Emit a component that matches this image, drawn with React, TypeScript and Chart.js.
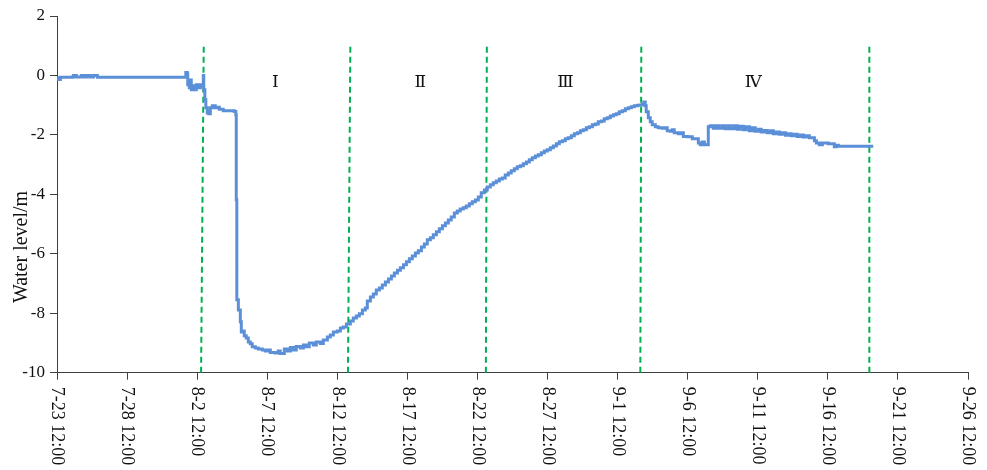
import React, { useEffect, useRef } from "react";
import { Chart, registerables } from "chart.js";

Chart.register(...registerables);

// x in days since 7-23 12:00
const X_TICK_LABELS = [
  "7-23 12:00", "7-28 12:00", "8-2 12:00", "8-7 12:00", "8-12 12:00", "8-17 12:00", "8-22 12:00",
  "8-27 12:00", "9-1 12:00", "9-6 12:00", "9-11 12:00", "9-16 12:00", "9-21 12:00", "9-26 12:00",
];
const Y_TICKS = [-10, -8, -6, -4, -2, 0, 2];

const TIMES = [
  0.02, 0.06, 0.16, 0.24, 1.09, 1.17, 1.31, 1.38, 1.66, 1.73, 1.88, 1.95, 2.09, 2.16, 2.30, 2.38, 2.52, 2.60, 2.81, 2.88,
  9.15, 9.19, 9.30, 9.33, 9.44, 9.51, 9.58, 9.72, 9.80, 9.94, 10.09, 10.23, 10.37, 10.44, 10.47, 10.55, 10.62, 10.72, 10.83, 10.94,
  11.08, 11.22, 11.29, 11.51, 11.58, 11.79, 11.86, 12.65, 12.76, 12.79, 12.83, 12.94, 13.08, 13.15, 13.29, 13.36, 13.50, 13.65, 13.79, 13.93,
  14.15, 14.36, 14.65, 14.86, 15.07, 15.22, 15.58, 15.79, 15.93, 16.22, 16.44, 16.65, 16.86, 17.07, 17.36, 17.58, 17.79, 18.00, 18.29, 18.50,
  18.79, 19.00, 19.29, 19.50, 19.72, 20.00, 20.22, 20.43, 20.65, 20.93, 21.14, 21.36, 21.57, 21.79, 22.00, 22.14, 22.36, 22.57, 22.78, 23.00,
  23.21, 23.43, 23.65, 23.86, 24.07, 24.29, 24.50, 24.72, 24.93, 25.14, 25.35, 25.57, 25.78, 26.00, 26.21, 26.42, 26.64, 26.85, 27.07, 27.28,
  27.50, 27.71, 27.92, 28.13, 28.35, 28.56, 28.77, 28.99, 29.20, 29.42, 29.63, 29.85, 30.06, 30.27, 30.49, 30.70, 30.92, 31.13, 31.34, 31.56,
  31.77, 31.98, 32.20, 32.41, 32.63, 32.84, 33.06, 33.27, 33.49, 33.70, 33.91, 34.13, 34.34, 34.56, 34.77, 34.98, 35.20, 35.41, 35.63, 35.84,
  36.06, 36.27, 36.48, 36.70, 36.91, 37.13, 37.34, 37.55, 37.77, 37.98, 38.20, 38.41, 38.62, 38.84, 39.05, 39.27, 39.48, 39.70, 39.91, 40.12,
  40.34, 40.55, 40.77, 40.98, 41.19, 41.41, 41.62, 41.76, 41.87, 41.97, 42.04, 42.19, 42.33, 42.47, 42.69, 42.90, 43.18, 43.40, 43.54, 43.76,
  43.90, 44.04, 44.33, 44.54, 44.69, 44.97, 45.19, 45.33, 45.69, 45.76, 45.90, 46.04, 46.19, 46.40, 46.47, 46.61, 46.83, 47.04, 47.25, 47.47,
  47.68, 47.90, 48.11, 48.33, 48.54, 48.75, 48.97, 49.18, 49.40, 49.61, 49.82, 50.04, 50.25, 50.47, 50.68, 50.90, 51.11, 51.32, 51.54, 51.75,
  51.97, 52.18, 52.39, 52.61, 52.82, 53.04, 53.25, 53.46, 53.68, 53.89, 54.04, 54.18, 54.39, 54.61, 54.89, 55.03, 55.32, 55.46, 55.60, 55.75,
  58.24,
];

const LEVELS = [
  -0.08, -0.13, -0.14, -0.06, -0.05, 0.0, 0.0, -0.05, -0.05, 0.0, 0.0, -0.05, -0.05, 0.0, 0.0, -0.05, -0.05, 0.0, 0.0, -0.06,
  -0.06, 0.1, 0.05, -0.31, -0.41, -0.15, -0.48, -0.35, -0.48, -0.31, -0.41, -0.31, -0.35, 0.0, -0.48, -0.82, -1.09, -1.26, -1.29, -1.09,
  -1.02, -1.02, -1.09, -1.07, -1.14, -1.14, -1.19, -1.21, -1.32, -4.18, -7.55, -7.89, -8.29, -8.63, -8.60, -8.76, -8.83, -8.97, -9.03, -9.13,
  -9.17, -9.20, -9.24, -9.27, -9.24, -9.32, -9.34, -9.27, -9.35, -9.20, -9.27, -9.15, -9.24, -9.12, -9.17, -9.07, -9.13, -9.00, -9.07, -8.97,
  -9.02, -8.90, -8.80, -8.73, -8.63, -8.60, -8.50, -8.46, -8.36, -8.26, -8.16, -8.09, -8.02, -7.89, -7.82, -7.59, -7.45, -7.35, -7.22, -7.15,
  -7.05, -6.95, -6.85, -6.75, -6.65, -6.55, -6.47, -6.37, -6.27, -6.17, -6.07, -5.97, -5.90, -5.77, -5.67, -5.53, -5.46, -5.36, -5.26, -5.16,
  -5.06, -4.96, -4.86, -4.76, -4.63, -4.56, -4.49, -4.45, -4.39, -4.32, -4.25, -4.19, -4.09, -3.95, -3.85, -3.75, -3.68, -3.61, -3.55, -3.48,
  -3.45, -3.35, -3.28, -3.21, -3.14, -3.07, -3.04, -2.97, -2.91, -2.84, -2.77, -2.71, -2.67, -2.60, -2.54, -2.50, -2.43, -2.37, -2.30, -2.23,
  -2.20, -2.13, -2.10, -2.03, -1.96, -1.93, -1.86, -1.83, -1.76, -1.73, -1.66, -1.63, -1.56, -1.53, -1.46, -1.42, -1.36, -1.32, -1.29, -1.22,
  -1.19, -1.12, -1.09, -1.05, -1.02, -1.00, -0.99, -0.97, -0.89, -1.02, -1.22, -1.42, -1.56, -1.66, -1.73, -1.76, -1.78, -1.76, -1.86, -1.88,
  -1.83, -1.93, -1.96, -1.93, -2.05, -2.06, -2.06, -2.13, -2.13, -2.27, -2.33, -2.24, -2.33, -2.33, -1.73, -1.69, -1.78, -1.69, -1.78, -1.69,
  -1.79, -1.69, -1.79, -1.69, -1.81, -1.71, -1.83, -1.73, -1.86, -1.76, -1.88, -1.81, -1.90, -1.85, -1.93, -1.86, -1.96, -1.90, -1.98, -1.93,
  -2.01, -1.96, -2.03, -1.98, -2.05, -2.00, -2.07, -2.03, -2.10, -2.10, -2.20, -2.27, -2.33, -2.27, -2.27, -2.30, -2.30, -2.40, -2.35, -2.38,
  -2.38,
];

// stage dividers (dashed green)
const DIVIDER_BOTTOM_X = [10.28, 20.76, 30.6, 41.62, 57.96];
const DIVIDER_TOP_X = [10.47, 20.93, 30.67, 41.69, 57.96];
const DIVIDER_TOP_Y = [1.1, 1.0, 1.03, 1.0, 1.08];

const STAGE_LABELS = ["Ⅰ", "Ⅱ", "Ⅲ", "Ⅳ"];
const STAGE_X = [15.58, 25.92, 36.27, 49.68];
const STAGE_Y = [-0.25, -0.25, -0.25, -0.25];

const Y_TITLE = "Water level/m";
const SERIF = "'Liberation Serif', 'Times New Roman', 'DejaVu Serif', serif";

export default function App() {
  const ref = useRef<HTMLCanvasElement>(null);

  useEffect(() => {
    document.body.style.margin = "0";
    const canvas = ref.current;
    if (!canvas) return;

    const dividerSets = DIVIDER_BOTTOM_X.map((bx, i) => ({
      data: [
        { x: bx, y: -10 },
        { x: DIVIDER_TOP_X[i], y: DIVIDER_TOP_Y[i] },
      ],
      borderColor: "#00B050",
      borderWidth: 2,
      borderDash: [6, 4],
      pointRadius: 0,
      fill: false,
    }));

    const overlay = {
      id: "overlay",
      afterDraw(chart: any) {
        const c = chart.ctx;
        const xs = chart.scales.x;
        const ys = chart.scales.y;
        c.save();
        c.fillStyle = "#111";
        // x tick labels rotated clockwise
        c.font = `18px ${SERIF}`;
        c.textAlign = "left";
        c.textBaseline = "middle";
        const base = chart.chartArea.bottom + 14;
        X_TICK_LABELS.forEach((lab, i) => {
          const px = xs.getPixelForValue(i * 5);
          c.save();
          c.translate(px, base);
          c.rotate(Math.PI / 2);
          c.fillText(lab, 0, 0);
          c.restore();
        });
        // y title
        c.save();
        c.font = `20px ${SERIF}`;
        c.textAlign = "center";
        c.textBaseline = "middle";
        c.translate(22, 247);
        c.rotate(-Math.PI / 2);
        c.fillText(Y_TITLE, 0, 0);
        c.restore();
        // stage labels
        c.font = `17px ${SERIF}`;
        c.textAlign = "center";
        c.textBaseline = "middle";
        STAGE_LABELS.forEach((lab, i) => {
          c.fillText(lab, xs.getPixelForValue(STAGE_X[i]), ys.getPixelForValue(STAGE_Y[i]));
        });
        c.restore();
      },
    };

    const chart = new Chart(canvas, {
      type: "line",
      data: {
        datasets: [
          {
            data: TIMES.map((t, i) => ({ x: t, y: LEVELS[i] })),
            borderColor: "#5B8FD8",
            borderWidth: 3,
            pointRadius: 0,
            fill: false,
            stepped: true,
          },
          ...dividerSets,
        ] as any,
      },
      options: {
        animation: false,
        responsive: true,
        maintainAspectRatio: false,
        layout: { padding: { top: 16, right: 19, left: 0, bottom: 0 } },
        plugins: { legend: { display: false }, tooltip: { enabled: false } },
        scales: {
          x: {
            type: "linear",
            min: 0,
            max: 65,
            ticks: { stepSize: 5, display: false },
            grid: { display: true, drawOnChartArea: false, drawTicks: true, tickLength: 7, color: "#404040" },
            border: { display: true, color: "#404040", width: 1 },
            afterFit: (s: any) => {
              s.height = 97.3;
            },
          },
          y: {
            min: -10,
            max: 2,
            afterBuildTicks: (s: any) => {
              s.ticks = Y_TICKS.map((v) => ({ value: v }));
            },
            ticks: { color: "#111", font: { family: SERIF, size: 17 }, padding: 5 },
            grid: { display: true, drawOnChartArea: false, drawTicks: true, tickLength: 7, color: "#404040" },
            border: { display: true, color: "#404040", width: 1 },
            afterFit: (s: any) => {
              s.width = 57;
            },
          },
        },
      },
      plugins: [overlay],
    });

    return () => chart.destroy();
  }, []);

  return (
    <div style={{ width: 987, height: 470, position: "relative" }}>
      <canvas ref={ref} />
    </div>
  );
}
